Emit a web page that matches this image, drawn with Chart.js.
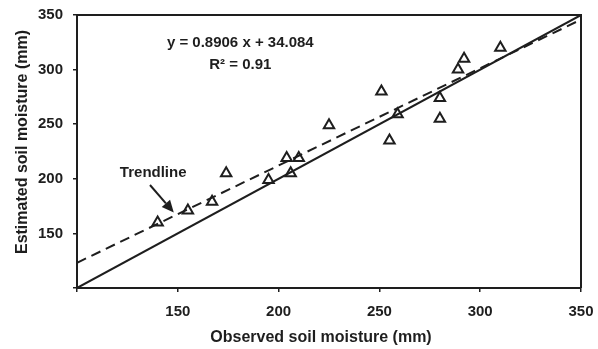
<!DOCTYPE html>
<html>
<head>
<meta charset="utf-8">
<script src="https://cdn.jsdelivr.net/npm/chart.js@4/dist/chart.umd.min.js"></script>
<style>
  html, body { margin: 0; padding: 0; background: #fff; }
  #wrap { width: 598px; height: 349px; }
</style>
</head>
<body>
<div id="wrap"><canvas id="c" width="598" height="349"></canvas></div>
<script>
// Observed vs estimated soil moisture (mm)
const observed  = [140, 155, 167, 174, 195, 204, 206, 210, 225, 251, 255, 259, 280, 280, 289, 292, 310];
const estimated = [160, 171, 179, 205, 199, 219, 205, 219, 249, 280, 235, 259, 274, 255, 300, 310, 320];

// 1:1 line and fitted trendline end points
const oneToOneX = [100, 350];
const oneToOneY = [100, 350];
const trendX = [100, 350];
const trendY = [123.1, 345.8];

const tickValues = [100, 150, 200, 250, 300, 350];
const xTitle = 'Observed soil moisture (mm)';
const yTitle = 'Estimated soil moisture (mm)';
const equationText = 'y = 0.8906 x + 34.084';
const r2Text = 'R² = 0.91';
const trendLabel = 'Trendline';

const INK = '#1e1e1e';
const FONT = '"Liberation Sans", Arial, sans-serif';

const pts = observed.map((x, i) => ({ x, y: estimated[i] }));
const lineA = oneToOneX.map((x, i) => ({ x, y: oneToOneY[i] }));
const lineB = trendX.map((x, i) => ({ x, y: trendY[i] }));

const annot = {
  id: 'annot',
  afterDraw(chart) {
    const { ctx, chartArea: a, scales: { x, y } } = chart;
    ctx.save();
    // top and right frame
    ctx.strokeStyle = INK;
    ctx.lineWidth = 2;
    ctx.beginPath();
    ctx.moveTo(a.left, a.top);
    ctx.lineTo(a.right, a.top);
    ctx.lineTo(a.right, a.bottom);
    ctx.stroke();

    ctx.fillStyle = INK;
    ctx.textAlign = 'center';
    ctx.textBaseline = 'middle';
    ctx.font = 'bold 15px ' + FONT;
    ctx.fillText(equationText, x.getPixelForValue(181), y.getPixelForValue(324.5));
    ctx.fillText(r2Text, x.getPixelForValue(181), y.getPixelForValue(304));
    ctx.fillText(trendLabel, x.getPixelForValue(137.8), y.getPixelForValue(205.3));

    // arrow
    const x1 = x.getPixelForValue(136.2), y1 = y.getPixelForValue(194.3);
    const x2 = x.getPixelForValue(148), y2 = y.getPixelForValue(169.2);
    const ang = Math.atan2(y2 - y1, x2 - x1);
    const hl = 12, hw = 5.5;
    const bx = x2 - Math.cos(ang) * hl, by = y2 - Math.sin(ang) * hl;
    ctx.lineWidth = 2;
    ctx.beginPath();
    ctx.moveTo(x1, y1);
    ctx.lineTo(bx, by);
    ctx.stroke();
    ctx.beginPath();
    ctx.moveTo(x2, y2);
    ctx.lineTo(bx - Math.sin(ang) * hw, by + Math.cos(ang) * hw);
    ctx.lineTo(bx + Math.sin(ang) * hw, by - Math.cos(ang) * hw);
    ctx.closePath();
    ctx.fill();

    // axis titles
    ctx.font = 'bold 16px ' + FONT;
    ctx.fillText(xTitle, 321, 338);
    ctx.translate(23, 142);
    ctx.rotate(-Math.PI / 2);
    ctx.fillText(yTitle, 0, 0);
    ctx.restore();
  }
};

const axisCommon = {
  type: 'linear',
  min: 100,
  max: 350,
  afterBuildTicks: (s) => { s.ticks = tickValues.map(v => ({ value: v })); },
  grid: { display: true, drawOnChartArea: false, drawTicks: true, tickLength: 4, color: INK, lineWidth: 1.5 },
  border: { display: true, color: INK, width: 2 },
  ticks: {
    color: INK,
    font: { family: FONT, size: 15, weight: 'bold' },
    callback: (v) => (v === 100 ? '' : String(v))
  },
  title: { display: false }
};

new Chart(document.getElementById('c'), {
  type: 'scatter',
  data: {
    datasets: [
      {
        label: 'Points',
        data: pts,
        pointStyle: 'triangle',
        pointRadius: 6,
        pointBorderWidth: 2,
        pointBackgroundColor: 'rgba(255,255,255,0)',
        pointBorderColor: INK,
        showLine: false,
        order: 0
      },
      {
        label: '1:1',
        data: lineA,
        showLine: true,
        borderColor: INK,
        borderWidth: 2,
        pointRadius: 0,
        fill: false,
        order: 1
      },
      {
        label: 'Trendline',
        data: lineB,
        showLine: true,
        borderColor: INK,
        borderWidth: 2,
        borderDash: [10, 6],
        pointRadius: 0,
        fill: false,
        order: 2
      }
    ]
  },
  options: {
    responsive: false,
    animation: false,
    devicePixelRatio: 1,
    layout: { padding: { left: 0, right: 17, top: 15, bottom: 0 } },
    plugins: { legend: { display: false }, tooltip: { enabled: false } },
    scales: {
      x: Object.assign({}, axisCommon, {
        position: 'bottom',
        ticks: Object.assign({}, axisCommon.ticks, { padding: 11, maxRotation: 0 }),
        afterFit: (s) => { s.height = 61; s.paddingLeft = 0; s.paddingRight = 0; }
      }),
      y: Object.assign({}, axisCommon, {
        position: 'left',
        ticks: Object.assign({}, axisCommon.ticks, { padding: 10 }),
        afterFit: (s) => { s.width = 77; s.paddingTop = 0; s.paddingBottom = 0; }
      })
    }
  },
  plugins: [annot]
});
</script>
</body>
</html>
